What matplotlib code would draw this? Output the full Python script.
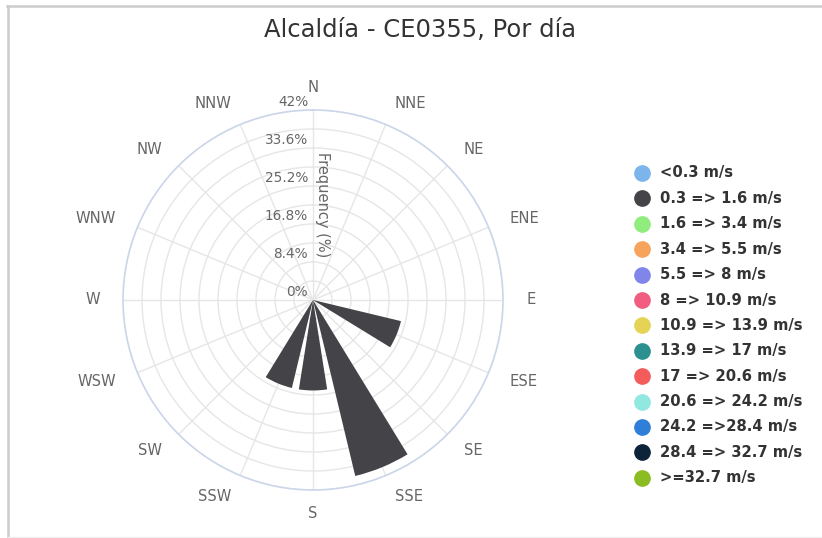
import numpy as np
import matplotlib
matplotlib.use("Agg")
import matplotlib.pyplot as plt
from matplotlib.lines import Line2D
import matplotlib.transforms as mtransforms

title = "Alcaldía - CE0355, Por día"
directions = ["N", "NNE", "NE", "ENE", "E", "ESE", "SE", "SSE",
              "S", "SSW", "SW", "WSW", "W", "WNW", "NW", "NNW"]
# frequency (%) of the 0.3 => 1.6 m/s class per direction
freq_03_16 = [0, 0, 0, 0, 0, 20, 0, 40, 20, 20, 0, 0, 0, 0, 0, 0]
radial_ticks = [0, 8.4, 16.8, 25.2, 33.6, 42]
radial_max = 42
speed_classes = ["<0.3 m/s", "0.3 => 1.6 m/s", "1.6 => 3.4 m/s", "3.4 => 5.5 m/s",
                 "5.5 => 8 m/s", "8 => 10.9 m/s", "10.9 => 13.9 m/s", "13.9 => 17 m/s",
                 "17 => 20.6 m/s", "20.6 => 24.2 m/s", "24.2 =>28.4 m/s",
                 "28.4 => 32.7 m/s", ">=32.7 m/s"]
class_colors = ["#7cb5ec", "#434348", "#90ed7d", "#f7a35c", "#8085e9", "#f15c80",
                "#e4d354", "#2b908f", "#f45b5b", "#91e8e1", "#2f7ed8", "#0d233a",
                "#8bbc21"]

W, H = 822, 538
fig = plt.figure(figsize=(W / 100, H / 100), dpi=100)
fig.patch.set_facecolor("white")

cx, cy, R = 313, 300, 190
ax = fig.add_axes([(cx - R) / W, (H - cy - R) / H, 2 * R / W, 2 * R / H], projection="polar")
ax.set_theta_zero_location("N")
ax.set_theta_direction(-1)
ax.set_ylim(0, radial_max)

theta = np.deg2rad(np.arange(16) * 22.5)
ax.set_xticks(theta)
ax.set_xticklabels([])
ax.set_yticks(np.arange(0, radial_max + 0.01, 4.2))
ax.set_yticklabels([])
ax.grid(True, color="#e6e6e6", lw=1)
ax.spines["polar"].set_color("#ccd6eb")
ax.spines["polar"].set_linewidth(1.2)
ax.set_axisbelow(True)

# direction labels (Highcharts-like: anchored outside circle, left/right aligned)
r_lab = radial_max * 213 / R
for th, name in zip(theta, directions):
    s = np.sin(th)
    if abs(s) < 1e-6:
        ha = "center"
    elif s > 0:
        ha = "left"
    else:
        ha = "right"
    ax.text(th, r_lab, name, ha=ha, va="center", fontsize=10.6, color="#666666",
            clip_on=False)

ax.bar(theta, freq_03_16, width=0.8 * 2 * np.pi / 16, color=class_colors[1],
       edgecolor="none", zorder=3)

# radial labels
off = mtransforms.offset_copy(ax.transData, fig=fig, x=-3.5, y=6, units="points")
for r in radial_ticks:
    lab = ("%g" % r) + "%"
    ax.text(0, r, lab, transform=off, ha="right", va="center", fontsize=9.8,
            color="#666666", zorder=5)
fig.text((cx + 9) / W, 1 - 205 / H, "Frequency (%)", rotation=270, ha="center",
         va="center", fontsize=10.5, color="#666666")

fig.text(420 / W, 1 - 30 / H, title, ha="center", va="center", fontsize=17.5,
         color="#333333")

# legend
y0, dy = 173, 25.4
for i, (lab, col) in enumerate(zip(speed_classes, class_colors)):
    y = y0 + i * dy
    fig.add_artist(Line2D([642 / W], [1 - y / H], marker="o", markersize=11,
                          color=col, lw=0, transform=fig.transFigure))
    fig.text(660 / W, 1 - y / H, lab, ha="left", va="center", fontsize=10.6,
             color="#333333", fontweight="semibold")

# frame
fig.add_artist(Line2D([7 / W, 1], [1 - 6 / H, 1 - 6 / H], color="#cccccc", lw=1.8,
                      transform=fig.transFigure))
fig.add_artist(Line2D([8 / W, 8 / W], [0, 1 - 6 / H], color="#cccccc", lw=1.8,
                      transform=fig.transFigure))
fig.add_artist(Line2D([8 / W, 1], [1 / H, 1 / H], color="#eeeeee", lw=1,
                      transform=fig.transFigure))

fig.savefig("out.png", dpi=100, facecolor="white")
